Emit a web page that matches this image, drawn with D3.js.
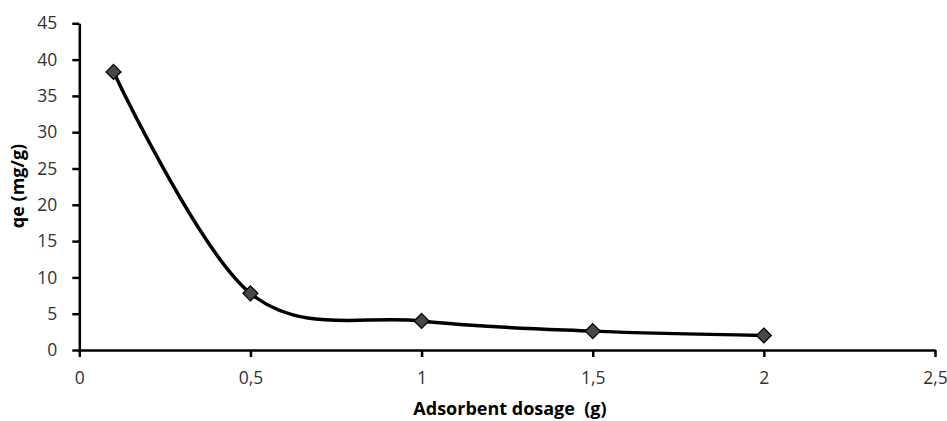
<!DOCTYPE html>
<html><head><meta charset="utf-8">
<script src="https://cdn.jsdelivr.net/npm/d3@7"></script>
<style>
html,body{margin:0;padding:0;background:#fff;}
svg{display:block;}
</style></head>
<body>
<svg id="chart" width="947" height="421"></svg>
<script>
const dosage = [0.1, 0.5, 1, 1.5, 2];
const qe = [38.3, 7.8, 4.0, 2.6, 2.0];
const xTicks = [0, 0.5, 1, 1.5, 2, 2.5];
const yTicks = [0, 5, 10, 15, 20, 25, 30, 35, 40, 45];
const xTitle = "Adsorbent dosage  (g)";
const yTitle = "qe (mg/g)";

const svg = d3.select("#chart");
const x = d3.scaleLinear().domain([0, 2.5]).range([79.3, 935]);
const y = d3.scaleLinear().domain([0, 45]).range([350, 23.3]);
const fmt = d => String(d).replace(".", ",");
const font = "'Open Sans', sans-serif";

// X axis
const gx = svg.append("g").attr("transform", `translate(0,${y(0)})`)
  .call(d3.axisBottom(x).tickValues(xTicks).tickFormat(fmt).tickSize(7).tickSizeOuter(0).tickPadding(15));
gx.select(".domain").attr("stroke", "#000").attr("stroke-width", 2.5);
gx.selectAll(".tick line").attr("stroke", "#000").attr("stroke-width", 2.5);
gx.selectAll(".tick text").attr("fill", "#333").style("font-family", font).style("font-size", "17.5px");

// Y axis
const gy = svg.append("g").attr("transform", `translate(${x(0)},0)`)
  .call(d3.axisLeft(y).tickValues(yTicks).tickFormat(fmt).tickSize(7).tickSizeOuter(0).tickPadding(15));
gy.select(".domain").attr("stroke", "#000").attr("stroke-width", 2.5);
gy.selectAll(".tick line").attr("stroke", "#000").attr("stroke-width", 2.5);
gy.selectAll(".tick text").attr("fill", "#333").style("font-family", font).style("font-size", "17.5px");

// Line
const data = dosage.map((d, i) => [d, qe[i]]);
svg.append("path").datum(data)
  .attr("fill", "none").attr("stroke", "#000").attr("stroke-width", 3.5)
  .attr("d", d3.line().x(d => x(d[0])).y(d => y(d[1])).curve(d3.curveCardinal.tension(0)));

// Markers
svg.selectAll(".mk").data(data).join("path").attr("class", "mk")
  .attr("transform", d => `translate(${x(d[0])},${y(d[1])})`)
  .attr("d", "M0,-7.5L7.5,0L0,7.5L-7.5,0Z")
  .attr("fill", "#474747").attr("stroke", "#000").attr("stroke-width", 1.2);

// Titles
svg.append("text").attr("x", 510).attr("y", 415).attr("text-anchor", "middle")
  .style("font-family", font).style("font-size", "18px").style("font-weight", "bold")
  .attr("fill", "#000").attr("xml:space", "preserve").text(xTitle);
svg.append("text").attr("transform", "translate(24,186) rotate(-90)").attr("text-anchor", "middle")
  .style("font-family", font).style("font-size", "18px").style("font-weight", "bold")
  .attr("fill", "#000").text(yTitle);
</script>
</body></html>
